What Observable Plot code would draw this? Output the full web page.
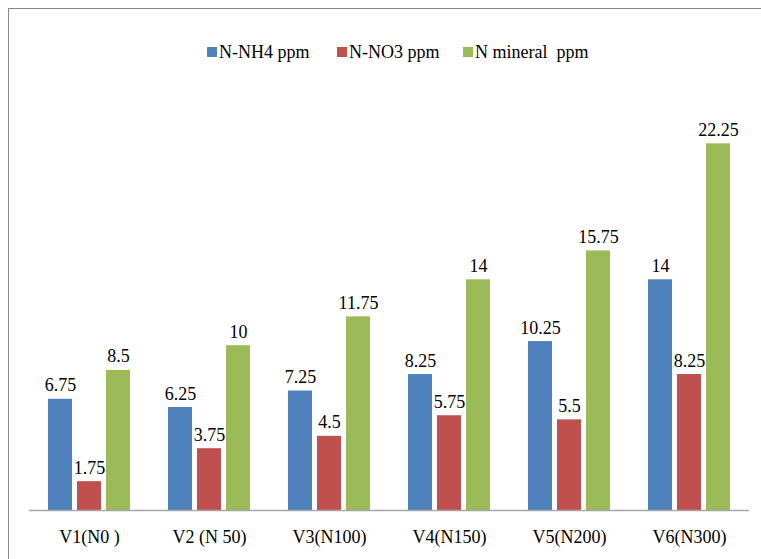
<!DOCTYPE html>
<html><head><meta charset="utf-8">
<script src="https://cdn.jsdelivr.net/npm/d3@7"></script>
<script src="https://cdn.jsdelivr.net/npm/@observablehq/plot@0.6"></script>
<style>
body{margin:0;background:#fff;font-family:"Liberation Serif","Tinos","Times New Roman","DejaVu Serif","Noto Serif",serif;}
#wrap{position:relative;width:761px;height:559px;overflow:hidden;}
#frame{position:absolute;left:8px;top:8px;width:800px;height:600px;border-left:1.5px solid #8a8a8a;border-top:1.5px solid #8a8a8a;}
#legend{position:relative;height:80px;font-size:18px;color:#000;}
.item{position:absolute;top:42px;display:flex;align-items:center;white-space:pre;line-height:20px;}
.sw{width:10px;height:10px;margin-right:2px;}
#chart{position:relative;}
</style></head>
<body><div id="wrap"><div id="frame"></div><div id="legend"></div><div id="chart"></div></div>
<script>
const categories = ["V1(N0 )", "V2 (N 50)", "V3(N100)", "V4(N150)", "V5(N200)", "V6(N300)"];
const seriesNames = ["N-NH4 ppm", "N-NO3 ppm", "N mineral  ppm"];
const nh4 = [6.75, 6.25, 7.25, 8.25, 10.25, 14];
const no3 = [1.75, 3.75, 4.5, 5.75, 5.5, 8.25];
const nmin = [8.5, 10, 11.75, 14, 15.75, 22.25];
const colors = ["#4F81BD", "#C0504D", "#9BBB59"];

const seriesValues = [nh4, no3, nmin];
const data = [];
categories.forEach((c, i) => {
  seriesNames.forEach((s, j) => data.push({cat: c, series: s, value: seriesValues[j][i]}));
});

const FONT = '"Liberation Serif","Tinos","Times New Roman","DejaVu Serif","Noto Serif",serif';

// legend
const legendX = [207, 337, 463];
const legend = document.getElementById("legend");
seriesNames.forEach((s, j) => {
  const it = document.createElement("div");
  it.className = "item";
  it.style.left = legendX[j] + "px";
  const sw = document.createElement("span");
  sw.className = "sw";
  sw.style.background = colors[j];
  const tx = document.createElement("span");
  tx.textContent = s;
  tx.style.fontFamily = FONT;
  it.appendChild(sw); it.appendChild(tx);
  legend.appendChild(it);
});

const chart = Plot.plot({
  width: 761,
  height: 479,
  marginTop: 18,
  marginBottom: 49,
  marginLeft: 27,
  marginRight: 11,
  style: {fontFamily: FONT, fontSize: "18px", color: "#000", background: "transparent"},
  fx: {domain: categories, padding: 0, label: null, tickSize: 0, tickPadding: 20},
  x: {domain: seriesNames, paddingInner: 0.167, paddingOuter: 0.59, axis: null},
  y: {domain: [0, 25], axis: null},
  color: {domain: seriesNames, range: colors},
  marks: [
    Plot.barY(data, {fx: "cat", x: "series", y: "value", fill: "series"}),
    Plot.text(data, {fx: "cat", x: "series", y: "value", text: d => String(d.value), lineAnchor: "bottom", dy: -8, fill: "#000", fontSize: 18}),
    Plot.ruleY([0], {stroke: "#a6a6a6", strokeWidth: 1.5})
  ]
});
chart.querySelectorAll("text").forEach(t => t.setAttribute("font-family", FONT));
document.getElementById("chart").appendChild(chart);
</script>
</body></html>
